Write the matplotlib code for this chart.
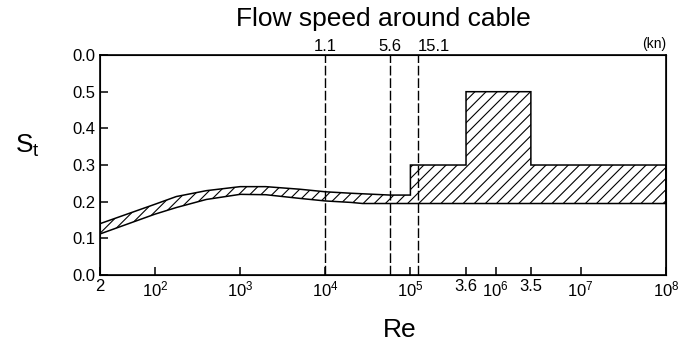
import matplotlib
matplotlib.use('Agg')
import matplotlib.pyplot as plt

plt.rcParams['font.family'] = ['Liberation Sans', 'DejaVu Sans']
plt.rcParams['mathtext.fontset'] = 'custom'
plt.rcParams['mathtext.rm'] = 'Liberation Sans'
plt.rcParams['mathtext.it'] = 'Liberation Sans:italic'
plt.rcParams['hatch.linewidth'] = 0.8

# Strouhal number band
re_min = 22.6
re_max = 1e8
upper_re = [re_min, 1e2, 178, 400, 1e3, 2e3, 5e3, 1e4, 2e4, 5.8e4, 1e5, 1e5, 4.5e5, 4.5e5, 2.6e6, 2.6e6, re_max]
upper_st = [0.14, 0.193, 0.214, 0.23, 0.241, 0.241, 0.234, 0.227, 0.223, 0.218, 0.218, 0.3, 0.3, 0.5, 0.5, 0.3, 0.3]
lower_re = [re_min, 1e2, 178, 400, 1e3, 2e3, 5e3, 1e4, 2e4, 2.75e4, re_max]
lower_st = [0.112, 0.166, 0.184, 0.206, 0.220, 0.219, 0.209, 0.202, 0.198, 0.195, 0.195]

# flow speed markers (kn) on the top edge
speed_re = [1e4, 5.8e4, 1.23e5]
speed_labels = ['1.1', '5.6', '15.1']

xtick_re = [re_min, 1e2, 1e3, 1e4, 1e5, 4.5e5, 1e6, 2.6e6, 1e7, 1e8]
xtick_labels = ['2', '$10^2$', '$10^3$', '$10^4$', '$10^5$', '3.6', '$10^6$', '3.5', '$10^7$', '$10^8$']
ytick_vals = [0.0, 0.1, 0.2, 0.3, 0.4, 0.5, 0.6]
ytick_labels = ['0.0', '0.1', '0.2', '0.3', '0.4', '0.5', '0.0']

fig = plt.figure(figsize=(6.85, 3.44), dpi=100)
ax = fig.add_axes([0.146, 0.2006, 0.826, 0.6394])

poly_x = upper_re + lower_re[::-1]
poly_y = upper_st + lower_st[::-1]
ax.fill(poly_x, poly_y, facecolor='none', edgecolor='black', hatch='///', linewidth=1.1)

for r in speed_re:
    ax.axvline(r, color='black', linewidth=1.0, linestyle=(0, (7, 2)))

ax.set_xscale('log')
ax.set_xlim(re_min, re_max)
ax.set_ylim(0, 0.6)
ax.set_xticks(xtick_re)
ax.set_xticklabels(xtick_labels)
ax.minorticks_off()
ax.set_yticks(ytick_vals)
ax.set_yticklabels(ytick_labels)
ax.tick_params(direction='in', length=6, width=1.1, labelsize=12, pad=3)
for s in ax.spines.values():
    s.set_linewidth(1.2)

top = ax.twiny()
top.set_xscale('log')
top.set_xlim(re_min, re_max)
top.minorticks_off()
top.set_xticks(speed_re)
top.set_xticklabels(speed_labels)
top.tick_params(length=0, labelsize=12, pad=1)
# last speed label sits to the right of its line
top.get_xticklabels()[-1].set_ha('left')
top.get_xticklabels()[-1].set_x(speed_re[-1])
top.text(1.0, 1.02, '(kn)', transform=ax.transAxes, ha='right', va='bottom', fontsize=10)

fig.text(400 / 685, 1 - 330 / 344, 'Re', ha='center', va='center', fontsize=19)
fig.text(27 / 685, 1 - 146 / 344, r'$\mathrm{S_t}$', ha='center', va='center', fontsize=19)
fig.text(0.56, 0.945, 'Flow speed around cable', ha='center', va='center', fontsize=19)

fig.savefig('out.png', dpi=100)
